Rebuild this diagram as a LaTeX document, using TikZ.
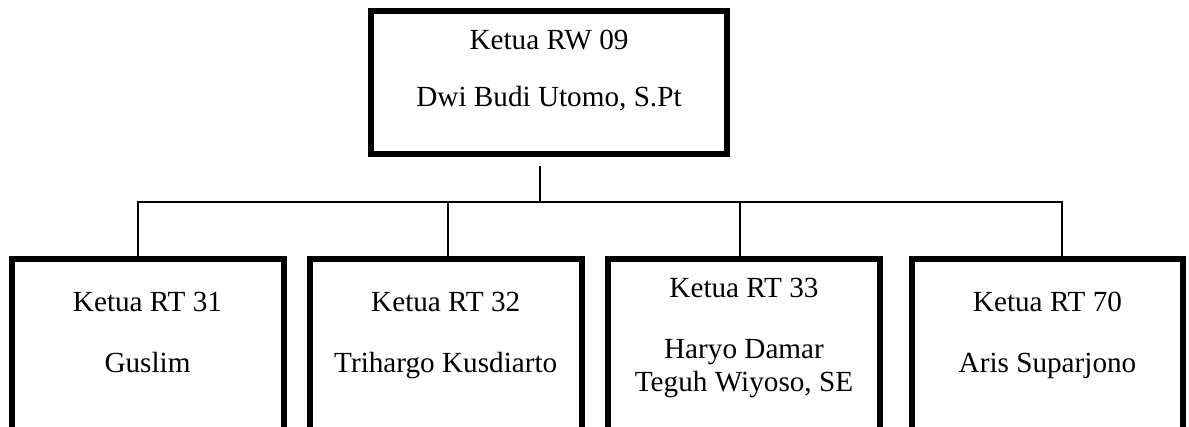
\documentclass[tikz,border=0pt]{standalone}
\usepackage{fontspec}
\setmainfont{Liberation Serif}
\usepackage{tikz}

\begin{document}
\begin{tikzpicture}[x=0.5pt,y=-0.5pt]
                \tikzstyle{every node}+=[inner sep=0pt]
                \tikzstyle{unitbox}=[draw=black,line width=3pt,rectangle,minimum height=110.5pt]
                \tikzstyle{lbl}=[font=\fontsize{14.6}{17}\selectfont,anchor=base]
                \tikzstyle{link}=[draw=black,line width=0.8pt]
                \useasboundingbox (0,0) rectangle (1189,427);
                \node [unitbox,minimum width=178pt,minimum height=71.5pt] (rw) at (549,82.5) {};
                \node [lbl] (rwtitle) at (549,50) {Ketua RW 09};
                \node [lbl] (rwname) at (549,107) {Dwi Budi Utomo, S.Pt};
                \node [unitbox,minimum width=136pt] (rt31) at (147.5,369.5) {};
                \node [lbl] (rt31title) at (147.5,312) {Ketua RT 31};
                \node [lbl] (rt31name) at (147.5,372) {Guslim};
                \node [unitbox,minimum width=136.25pt] (rt32) at (445.75,369.5) {};
                \node [lbl] (rt32title) at (445.75,312) {Ketua RT 32};
                \node [lbl] (rt32name) at (445.75,372) {Trihargo Kusdiarto};
                \node [unitbox,minimum width=136pt] (rt33) at (744,369.5) {};
                \node [lbl] (rt33title) at (744,298) {Ketua RT 33};
                \node [lbl] (rt33name) at (744,358) {Haryo Damar};
                \node [lbl] (rt33name2) at (744,392) {Teguh Wiyoso, SE};
                \node [unitbox,minimum width=135.5pt] (rt70) at (1047.5,369.5) {};
                \node [lbl] (rt70title) at (1047.5,312) {Ketua RT 70};
                \node [lbl] (rt70name) at (1047.5,372) {Aris Suparjono};
                \coordinate (hub) at (540,202);
                \coordinate (b1) at (138,202);
                \coordinate (b2) at (448,202);
                \coordinate (b3) at (740,202);
                \coordinate (b4) at (1062,202);
                \coordinate (rwfoot) at ([yshift=-4.5pt]rw.south);
                \draw [link] (rwfoot -| hub) -- (hub);
                \draw [link] (rt31.north -| b1) -- (b1) -- (b4) -- (rt70.north -| b4);
                \draw [link] (b2) -- (rt32.north -| b2);
                \draw [link] (b3) -- (rt33.north -| b3);
            \end{tikzpicture}
\end{document}
